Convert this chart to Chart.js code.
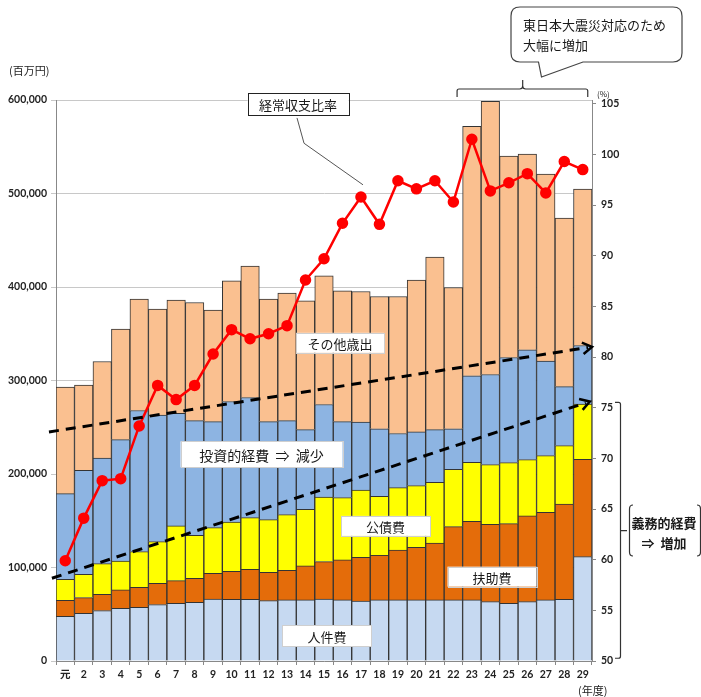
<!DOCTYPE html>
<html lang="ja">
<head>
<meta charset="UTF-8">
<title>経常収支比率と歳出の推移</title>
<script src="https://cdn.jsdelivr.net/npm/chart.js"></script>
<style>
  html, body { margin: 0; padding: 0; background: #fff; }
  #wrap { width: 701px; height: 697px; }
</style>
</head>
<body>
<div id="wrap"><canvas id="mainChart" width="701" height="697"></canvas></div>
<script>
// 年度
const years = ['元','2','3','4','5','6','7','8','9','10','11','12','13','14','15',
               '16','17','18','19','20','21','22','23','24','25','26','27','28','29'];

// 歳出 (百万円)
const personnel = [47800, 51000, 53900, 56400, 57500, 60300, 61700, 62800, 66300, 66000,
                   66000, 64500, 65300, 65300, 66300, 65300, 64200, 65300, 65300, 65300,
                   65300, 65300, 65300, 63500, 61700, 63500, 65300, 66000, 111600];
const welfare = [17200, 16800, 17500, 19600, 21400, 22800, 24200, 25600, 27500, 30000,
                 32100, 30400, 31800, 36400, 40000, 42800, 46800, 47800, 53200, 56400,
                 60700, 78400, 84200, 82800, 85200, 91700, 93800, 101700, 104200];
const debt = [22400, 25000, 32700, 31000, 38100, 44600, 58600, 46100, 48800, 52700,
              55200, 56300, 59500, 60600, 68900, 66700, 71700, 63100, 66900, 65900,
              65200, 61400, 63100, 63800, 65300, 60200, 60600, 62700, 58900];
const investment = [91600, 111200, 112800, 129800, 150900, 135300, 120500, 122600, 113500, 128800,
                    128500, 104900, 100500, 85200, 99100, 81300, 72700, 72100, 57900, 57400,
                    56300, 43200, 92400, 96300, 112400, 117400, 101000, 63100, 62700];
const otherSpending = [113900, 91000, 103400, 118200, 119100, 113400, 121000, 126300, 119200, 129100,
                       140600, 130900, 136400, 137700, 137700, 139900, 139800, 141500, 146500, 162300,
                       184500, 151200, 266800, 292100, 215400, 209400, 200100, 180200, 167300];

// 経常収支比率 (%)
const ratio = [59.9, 64.1, 67.8, 68.0, 73.2, 77.2, 75.8, 77.2, 80.3, 82.7,
               81.8, 82.3, 83.1, 87.6, 89.7, 93.2, 95.8, 93.1, 97.4, 96.6,
               97.4, 95.3, 101.5, 96.4, 97.2, 98.1, 96.2, 99.3, 98.5];

// 傾向線 [年度index, 百万円]
const upperTrend = [[-0.88, 245000], [28.5, 336000]];
const lowerTrend = [[-0.72, 88500], [28.38, 277500]];

const numFont = 'Lato, "DejaVu Sans", sans-serif';
const jpFont = '"Noto Sans CJK JP", sans-serif';

function box(ctx, cx, cy, w, h, text, size, border) {
  ctx.save();
  ctx.fillStyle = '#fff';
  ctx.fillRect(cx - w / 2, cy - h / 2, w, h);
  ctx.strokeStyle = border || '#cfcfcf';
  ctx.lineWidth = 1;
  ctx.strokeRect(Math.round(cx - w / 2) + 0.5, Math.round(cy - h / 2) + 0.5, w, h);
  ctx.fillStyle = '#1a1a1a';
  ctx.font = size + 'px ' + jpFont;
  ctx.textAlign = 'center';
  ctx.textBaseline = 'middle';
  ctx.fillText(text, cx, cy + 1);
  ctx.restore();
}

function dashedArrow(ctx, x1, y1, x2, y2) {
  ctx.save();
  ctx.strokeStyle = '#000';
  ctx.lineWidth = 3;
  ctx.setLineDash([10, 7]);
  ctx.beginPath();
  ctx.moveTo(x1, y1);
  ctx.lineTo(x2 - 4, y2 + (y1 - y2) * 4 / (x2 - x1));
  ctx.stroke();
  ctx.setLineDash([]);
  const a = Math.atan2(y2 - y1, x2 - x1);
  ctx.lineWidth = 2.5;
  ctx.beginPath();
  ctx.moveTo(x2 - 11 * Math.cos(a - 0.55), y2 - 11 * Math.sin(a - 0.55));
  ctx.lineTo(x2, y2);
  ctx.lineTo(x2 - 11 * Math.cos(a + 0.55), y2 - 11 * Math.sin(a + 0.55));
  ctx.stroke();
  ctx.restore();
}

const annotations = {
  id: 'annotations',
  afterDatasetsDraw(chart) {
    const ctx = chart.ctx;
    const { x, y, y2 } = chart.scales;
    const step = x.getPixelForValue(1) - x.getPixelForValue(0);
    const px = i => x.getPixelForValue(0) + i * step;

    dashedArrow(ctx, px(upperTrend[0][0]), y.getPixelForValue(upperTrend[0][1]),
                px(upperTrend[1][0]), y.getPixelForValue(upperTrend[1][1]));
    dashedArrow(ctx, px(lowerTrend[0][0]), y.getPixelForValue(lowerTrend[0][1]),
                px(lowerTrend[1][0]), y.getPixelForValue(lowerTrend[1][1]));

    box(ctx, px(14.87), y.getPixelForValue(340300), 88, 20, 'その他歳出', 13);
    box(ctx, px(10.62), y.getPixelForValue(221000), 162, 26, '投資的経費  ⇒  減少', 14);
    box(ctx, px(17.33), y.getPixelForValue(144500), 89, 20, '公債費', 13);
    box(ctx, px(23.09), y.getPixelForValue(90200), 89, 20, '扶助費', 13);
    box(ctx, px(14.16), y.getPixelForValue(26800), 89, 21, '人件費', 13);

    // 経常収支比率 label + leader
    ctx.save();
    ctx.strokeStyle = '#555';
    ctx.lineWidth = 1;
    ctx.beginPath();
    ctx.moveTo(px(12.54), y2.getPixelForValue(103.6));
    ctx.lineTo(px(12.92), y2.getPixelForValue(101.1));
    ctx.lineTo(px(16.11), y2.getPixelForValue(97.0));
    ctx.stroke();
    ctx.restore();
    box(ctx, px(12.6), y2.getPixelForValue(104.97), 101, 22, '経常収支比率', 13, '#222');

    // bracket over 23-29
    const bl = px(21.2), br = px(28.27), bp = px(24.75);
    ctx.save();
    ctx.strokeStyle = '#333';
    ctx.lineWidth = 1.2;
    ctx.beginPath();
    ctx.moveTo(bl, 97);
    ctx.lineTo(bl, 91);
    ctx.quadraticCurveTo(bl, 89, bl + 2, 89);
    ctx.lineTo(bp - 3, 89);
    ctx.quadraticCurveTo(bp, 89, bp, 86);
    ctx.lineTo(bp, 80);
    ctx.moveTo(bp, 86);
    ctx.quadraticCurveTo(bp, 89, bp + 3, 89);
    ctx.lineTo(br - 2, 89);
    ctx.quadraticCurveTo(br, 89, br, 91);
    ctx.lineTo(br, 97);
    ctx.stroke();

    // callout
    const cx0 = 511, cy0 = 7, cw = 171, ch = 55, r = 9;
    ctx.beginPath();
    ctx.moveTo(cx0 + r, cy0);
    ctx.lineTo(cx0 + cw - r, cy0);
    ctx.quadraticCurveTo(cx0 + cw, cy0, cx0 + cw, cy0 + r);
    ctx.lineTo(cx0 + cw, cy0 + ch - r);
    ctx.quadraticCurveTo(cx0 + cw, cy0 + ch, cx0 + cw - r, cy0 + ch);
    ctx.lineTo(583, cy0 + ch);
    ctx.lineTo(541.5, 77);
    ctx.lineTo(538.5, cy0 + ch);
    ctx.lineTo(cx0 + r, cy0 + ch);
    ctx.quadraticCurveTo(cx0, cy0 + ch, cx0, cy0 + ch - r);
    ctx.lineTo(cx0, cy0 + r);
    ctx.quadraticCurveTo(cx0, cy0, cx0 + r, cy0);
    ctx.closePath();
    ctx.fillStyle = '#fff';
    ctx.fill();
    ctx.strokeStyle = '#444';
    ctx.lineWidth = 1.2;
    ctx.stroke();
    ctx.fillStyle = '#1a1a1a';
    ctx.font = '13px ' + jpFont;
    ctx.textAlign = 'left';
    ctx.textBaseline = 'middle';
    ctx.fillText('東日本大震災対応のため', 523, 25);
    ctx.fillText('大幅に増加', 523, 45);

    // right bracket (義務的経費)
    const t = y2.getPixelForValue(75.53), b = y2.getPixelForValue(50.27), m = y2.getPixelForValue(62.86);
    const bx = 620.5;
    ctx.strokeStyle = '#333';
    ctx.lineWidth = 1.2;
    ctx.beginPath();
    ctx.moveTo(615, t);
    ctx.lineTo(bx - 2, t);
    ctx.quadraticCurveTo(bx, t, bx, t + 2);
    ctx.lineTo(bx, b - 2);
    ctx.quadraticCurveTo(bx, b, bx - 2, b);
    ctx.lineTo(615, b);
    ctx.moveTo(bx, m);
    ctx.lineTo(627, m);
    ctx.stroke();
    ctx.beginPath();
    ctx.moveTo(633, 505);
    ctx.quadraticCurveTo(629.5, 505, 629.5, 509);
    ctx.lineTo(629.5, 552);
    ctx.quadraticCurveTo(629.5, 556, 633, 556);
    ctx.moveTo(697, 505);
    ctx.quadraticCurveTo(700.5, 505, 700.5, 509);
    ctx.lineTo(700.5, 552);
    ctx.quadraticCurveTo(700.5, 556, 697, 556);
    ctx.stroke();
    ctx.fillStyle = '#1a1a1a';
    ctx.font = 'bold 13px ' + jpFont;
    ctx.textAlign = 'center';
    ctx.fillText('義務的経費', 664, 523);
    ctx.fillText('⇒  増加', 664, 543);

    // unit labels
    ctx.font = '11px ' + jpFont;
    ctx.fillStyle = '#222';
    ctx.textAlign = 'left';
    ctx.fillText('(百万円)', 9, 71);
    ctx.fillText('(年度)', 578, 691);
    ctx.font = '8px ' + jpFont;
    ctx.fillText('(%)', 597, 94);
    ctx.restore();
  }
};

const barStyle = { borderColor: '#333', borderWidth: 1, barPercentage: 1, categoryPercentage: 1, order: 1, yAxisID: 'y' };

new Chart(document.getElementById('mainChart'), {
  type: 'bar',
  data: {
    labels: years,
    datasets: [
      { type: 'line', label: '経常収支比率', data: ratio, yAxisID: 'y2', order: 0,
        borderColor: '#ff0000', borderWidth: 2.5, pointRadius: 4.5,
        pointBackgroundColor: '#ff0000', pointBorderColor: '#ff0000', tension: 0 },
      { label: '人件費', data: personnel, backgroundColor: '#c6d9f1', ...barStyle },
      { label: '扶助費', data: welfare, backgroundColor: '#e46c0a', ...barStyle },
      { label: '公債費', data: debt, backgroundColor: '#ffff00', ...barStyle },
      { label: '投資的経費', data: investment, backgroundColor: '#8db4e2', ...barStyle },
      { label: 'その他歳出', data: otherSpending, backgroundColor: '#fac090', ...barStyle }
    ]
  },
  options: {
    responsive: false,
    animation: false,
    layout: { padding: { top: 100, left: 0, right: 0, bottom: 0 } },
    plugins: { legend: { display: false }, tooltip: { enabled: false } },
    scales: {
      x: {
        stacked: true,
        offset: true,
        grid: { drawOnChartArea: false, offset: true, tickLength: 4, color: '#888' },
        border: { color: '#888' },
        ticks: { color: '#222', font: { family: numFont + ', ' + jpFont, size: 10.5, weight: 'bold' },
                 padding: 3, maxRotation: 0, autoSkip: false },
        afterFit(s) { s.height = 36; }
      },
      y: {
        stacked: true,
        min: 0, max: 600000,
        grid: { color: '#c8c8c8', tickLength: 5 },
        border: { color: '#888' },
        ticks: { stepSize: 100000, color: '#222', padding: 4,
                 font: { family: numFont, size: 10.5, weight: 'bold' },
                 callback: v => v.toLocaleString('en-US') },
        afterFit(s) { s.width = 56; }
      },
      y2: {
        position: 'right',
        min: 50, max: 105.37,
        grid: { drawOnChartArea: false, tickLength: 4, color: '#888' },
        border: { color: '#888' },
        ticks: { stepSize: 5, includeBounds: false, color: '#222', padding: 5,
                 font: { family: numFont, size: 10.5, weight: 'bold' } },
        afterFit(s) { s.width = 109; }
      }
    }
  },
  plugins: [annotations]
});
</script>
</body>
</html>
